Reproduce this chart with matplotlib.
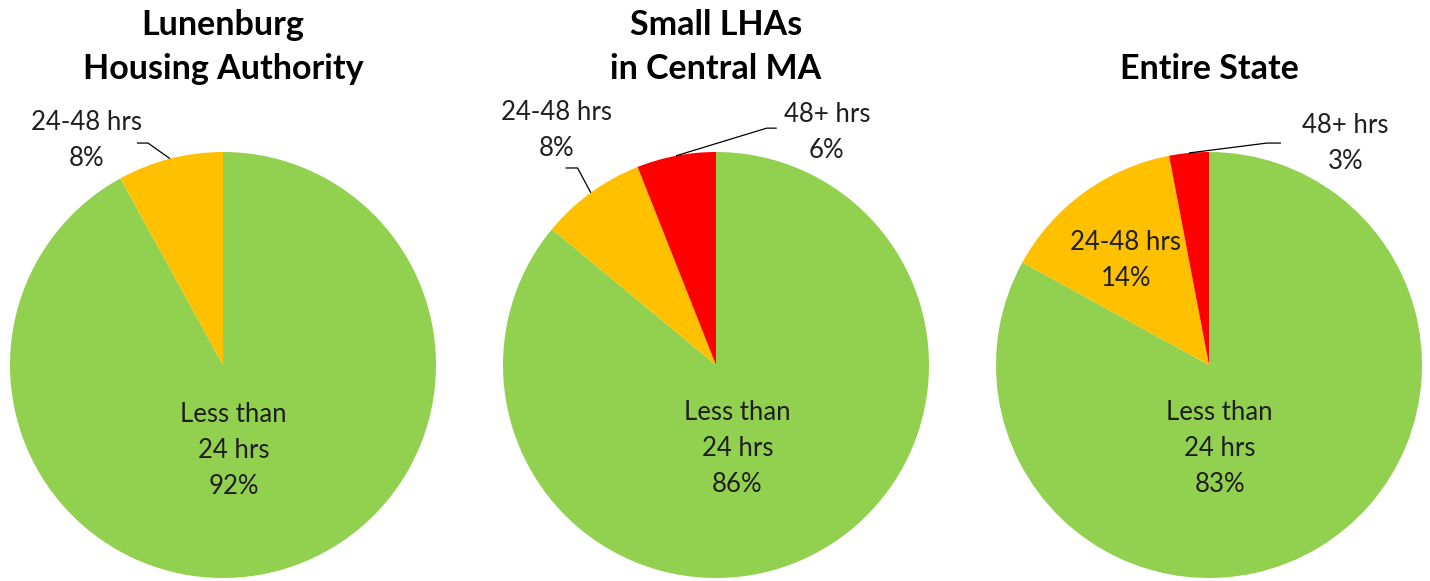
import matplotlib
matplotlib.use("Agg")
import matplotlib.pyplot as plt
import numpy as np

plt.rcParams['font.family'] = ['Lato', 'DejaVu Sans']

# data
titles = ['Lunenburg\nHousing Authority', 'Small LHAs\nin Central MA', 'Entire State']
categories = ['Less than\n24 hrs', '24-48 hrs', '48+ hrs']
shares = [
    [92, 8, 0],
    [86, 8, 6],
    [83, 14, 3],
]
colors = ['#92D050', '#FFC000', '#FF0000']

W, H = 1430, 581
fig = plt.figure(figsize=(W / 100, H / 100), dpi=100)

# pie centres (px) and radius
centers_x = [223, 716, 1209]
center_y = 365
R = 213

# label placement per pie, in pie units: (category index, x, y, leader elbow or None)
label_spots = [
    [(0, 0.05, -0.40, None), (1, -0.64, 1.056, (-0.404, -0.352, 1.042))],
    [(0, 0.10, -0.39, None), (1, -0.75, 1.10, (-0.706, -0.65, 0.925)),
     (2, 0.52, 1.09, (0.285, 0.238, 1.112))],
    [(0, 0.05, -0.39, None), (1, -0.39, 0.49, None),
     (2, 0.64, 1.04, (0.338, 0.272, 1.042))],
]

label_color = '#1f1f1f'

for i, vals in enumerate(shares):
    cx = centers_x[i]
    ax = fig.add_axes([(cx - R) / W, (H - center_y - R) / H, 2 * R / W, 2 * R / H])
    wedges, _ = ax.pie(vals, colors=colors, startangle=90, counterclock=False,
                       radius=1, wedgeprops=dict(linewidth=0))
    ax.set_xlim(-1, 1)
    ax.set_ylim(-1, 1)
    ax.set_aspect('equal')
    ax.axis('off')

    for k, lx, ly, leader in label_spots[i]:
        txt = f"{categories[k]}\n{vals[k]}%"
        ax.text(lx, ly, txt, ha='center', va='center', fontsize=18.5,
                color=label_color, linespacing=1.55, clip_on=False)
        if leader is not None:
            w = wedges[k]
            mid = np.deg2rad((w.theta1 + w.theta2) / 2)
            ex, ey = np.cos(mid), np.sin(mid)
            x0, x1, y0 = leader
            ax.plot([x0, x1, ex], [y0, y0, ey], color='#000000', lw=0.9,
                    clip_on=False, solid_capstyle='butt')

    fig.text(cx / W, 1 - 85 / H, titles[i], ha='center', va='bottom',
             fontsize=24.5, fontweight='bold', color='black', linespacing=1.45)

fig.savefig('out.png', dpi=100)
